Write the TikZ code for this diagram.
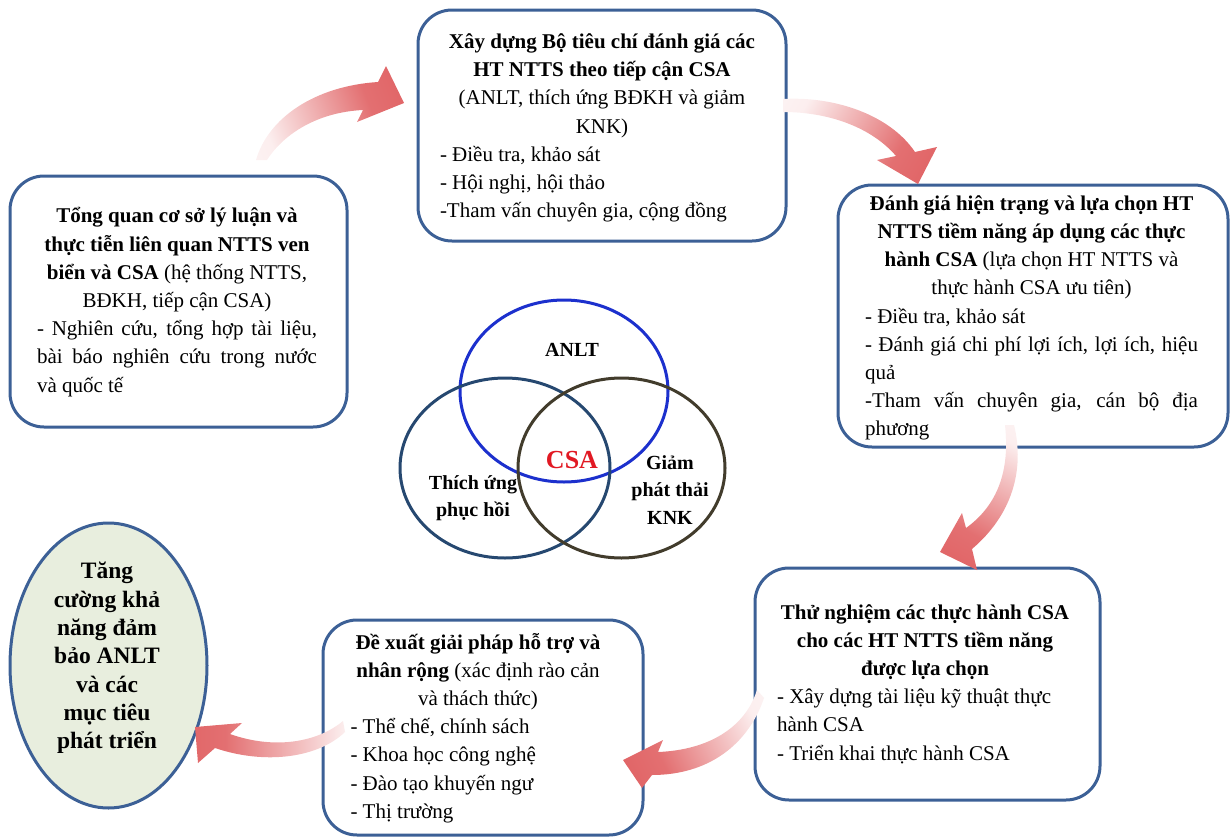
\documentclass[tikz,border=0pt]{standalone}
\usepackage{fontspec}
\setmainfont{Liberation Serif}
\usetikzlibrary{shapes.geometric}

\definecolor{boxblue}{RGB}{60,96,150}
\definecolor{arrowred}{RGB}{222,86,88}
\definecolor{goalfill}{RGB}{232,238,222}
\definecolor{vennblue}{RGB}{28,48,205}
\definecolor{vennsteel}{RGB}{38,72,112}
\definecolor{vennolive}{RGB}{66,60,44}
\definecolor{csared}{RGB}{225,25,35}

% red fade used by the curved flow arrows (light tail, solid head)
\pgfdeclareverticalshading{arrowfade}{100bp}{color(0bp)=(arrowred!3); color(25bp)=(arrowred!10); color(65bp)=(arrowred!85); color(100bp)=(arrowred)}

% left-aligned and full-width (spread) lines inside a box
\newcommand\bxl[2]{\makebox[#1][l]{#2}}
\newcommand\bxs[2]{\makebox[#1][s]{#2}}

\begin{document}
\begin{tikzpicture}[x=1pt,y=-1pt,
  stagebox/.style={draw=boxblue, line width=3pt, rounded corners=34pt, fill=white,
    rectangle, inner sep=0pt, outer sep=0pt},
  txt/.style={align=center, inner sep=0pt, font=\fontsize{21pt}{28.2pt}\selectfont},
  venn/.style={ellipse, line width=3pt, inner sep=0pt},
  vlabel/.style={align=center, inner sep=0pt, font=\bfseries\fontsize{20pt}{27.5pt}\selectfont},
  flow/.style={shading=arrowfade}
]
\useasboundingbox (0,0) rectangle (1232,838);

% ---------- stage boxes ----------
\node[stagebox, minimum width=368pt, minimum height=231pt] (b1) at (602,125.5) {};
\node[stagebox, minimum width=337pt, minimum height=251pt] (b2) at (178.5,301.5) {};
\node[stagebox, minimum width=390pt, minimum height=262pt] (b3) at (1033,316) {};
\node[stagebox, minimum width=345pt, minimum height=232pt] (b4) at (927.5,684) {};
\node[stagebox, minimum width=320pt, minimum height=215pt] (b5) at (483,727.5) {};

% ---------- goal ellipse ----------
\node[ellipse, draw=boxblue, fill=goalfill, line width=3pt, inner sep=0pt,
      minimum width=197pt, minimum height=285pt] (goal) at (108.5,665.5) {};

% ---------- texts of the stages ----------
\node[txt] (t1) at (602,128) {%
  \textbf{Xây dựng Bộ tiêu chí đánh giá các}\\
  \textbf{HT NTTS theo tiếp cận CSA}\\
  (ANLT, thích ứng BĐKH và giảm\\
  KNK)\\
  \bxl{324pt}{- Điều tra, khảo sát}\\
  \bxl{324pt}{- Hội nghị, hội thảo}\\
  \bxl{324pt}{-Tham vấn chuyên gia, cộng đồng}};

\node[txt] (t2) at (177,302) {%
  \textbf{Tổng quan cơ sở lý luận và}\\
  \textbf{thực tiễn liên quan NTTS ven}\\
  \textbf{biển và CSA} (hệ thống NTTS,\\
  BĐKH, tiếp cận CSA)\\
  \bxs{280pt}{- Nghiên cứu, tổng hợp tài liệu,}\\
  \bxs{280pt}{bài báo nghiên cứu trong nước}\\
  \bxl{280pt}{và quốc tế}};

\node[txt] (t3) at (1031.5,318) {%
  \textbf{Đánh giá hiện trạng và lựa chọn HT}\\
  \textbf{NTTS tiềm năng áp dụng các thực}\\
  \textbf{hành CSA} (lựa chọn HT NTTS và\\
  thực hành CSA ưu tiên)\\
  \bxl{333pt}{- Điều tra, khảo sát}\\
  \bxs{333pt}{- Đánh giá chi phí lợi ích, lợi ích, hiệu}\\
  \bxl{333pt}{quả}\\
  \bxs{333pt}{-Tham vấn chuyên gia, cán bộ địa}\\
  \bxl{333pt}{phương}};

\node[txt] (t4) at (925,684) {%
  \textbf{Thử nghiệm các thực hành CSA}\\
  \textbf{cho các HT NTTS tiềm năng}\\
  \textbf{được lựa chọn}\\
  \bxl{296pt}{- Xây dựng tài liệu kỹ thuật thực}\\
  \bxl{296pt}{hành CSA}\\
  \bxl{296pt}{- Triển khai thực hành CSA}};

\node[txt] (t5) at (478,728) {%
  \textbf{Đề xuất giải pháp hỗ trợ và}\\
  \textbf{nhân rộng} (xác định rào cản\\
  và thách thức)\\
  \bxl{255pt}{- Thể chế, chính sách}\\
  \bxl{255pt}{- Khoa học công nghệ}\\
  \bxl{255pt}{- Đào tạo khuyến ngư}\\
  \bxl{255pt}{- Thị trường}};

\node[align=center, inner sep=0pt, font=\bfseries\fontsize{23.5pt}{28.3pt}\selectfont]
  (tg) at (107,658) {Tăng\\cường khả\\năng đảm\\bảo ANLT\\và các\\mục tiêu\\phát triển};

% ---------- CSA Venn diagram ----------
\node[venn, draw=vennblue,  minimum width=208pt, minimum height=182pt] (vfood)  at (564,391) {};
\node[venn, draw=vennsteel, minimum width=210pt, minimum height=180pt] (vadapt) at (505,468) {};
\node[venn, draw=vennolive, minimum width=207pt, minimum height=180pt] (vghg)   at (621.5,468) {};

\node[vlabel] (lfood)  at (572,350) {ANLT};
\node[vlabel] (ladapt) at (473,498) {Thích ứng\\phục hồi};
\node[vlabel] (lghg)   at (670,490) {Giảm\\phát thải\\KNK};
\node[inner sep=0pt, text=csared, font=\bfseries\fontsize{26pt}{30pt}\selectfont] (lcsa) at (572,460) {CSA};

% ---------- curved flow arrows ----------
% review -> criteria
\shade[flow, shading angle=-69]
  (256,160) .. controls (268,118) and (315,86) .. (378,82) -- (386,66) -- (404,103)
  -- (357,122) -- (363,110) .. controls (320,112) and (285,132) .. (267,160) -- cycle;
% criteria -> assessment
\shade[flow, shading angle=-120]
  (783,99) .. controls (835,96) and (890,115) .. (915,152) -- (937,147) -- (918,184)
  -- (877,160) -- (896,156) .. controls (872,128) and (830,112) .. (783,112) -- cycle;
% assessment -> pilot
\shade[flow, shading angle=151.5]
  (1014,425) .. controls (1025,470) and (1012,515) .. (972,549) -- (977,570) -- (940,552)
  -- (962,513) -- (966,528) .. controls (998,505) and (1010,470) .. (1005,425) -- cycle;
% pilot -> scaling up
\shade[flow, shading angle=115.7]
  (757,690) .. controls (745,728) and (708,750) .. (658,752) -- (663,740) -- (623,760)
  -- (642,788) -- (652,775) .. controls (708,775) and (748,745) .. (764,698) -- cycle;
% scaling up -> goal
\shade[flow, shading angle=90]
  (343,721) .. controls (318,742) and (275,750) .. (230,734) -- (242,723) -- (195,727)
  -- (198,763) -- (215,748) .. controls (265,765) and (318,758) .. (345,732) -- cycle;
\end{tikzpicture}
\end{document}
